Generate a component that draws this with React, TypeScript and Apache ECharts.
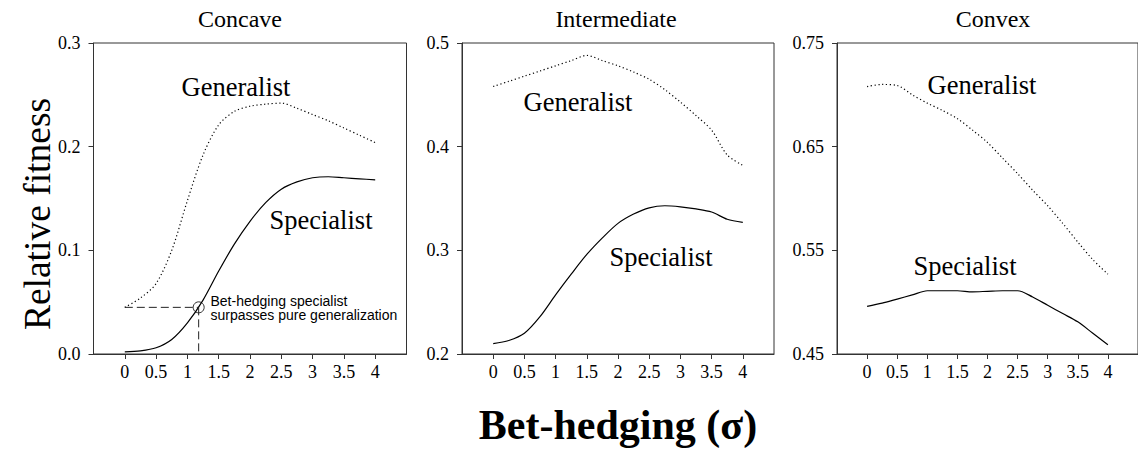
import React, { useEffect, useRef } from 'react';
import * as echarts from 'echarts';

// ---------- data ----------
const sigma = [0, 0.25, 0.5, 0.75, 1, 1.25, 1.5, 1.75, 2, 2.25, 2.5, 2.75, 3, 3.25, 3.5, 3.75, 4];
const xTickValues = [0, 0.5, 1, 1.5, 2, 2.5, 3, 3.5, 4];

const panelTitles = ['Concave', 'Intermediate', 'Convex'];

const concaveGeneralist = [0.045, 0.054, 0.068, 0.100, 0.148, 0.192, 0.221, 0.234, 0.239, 0.241, 0.242, 0.237, 0.231, 0.225, 0.218, 0.211, 0.204];
const concaveSpecialist = [0.002, 0.003, 0.006, 0.014, 0.030, 0.052, 0.080, 0.106, 0.128, 0.146, 0.159, 0.166, 0.170, 0.171, 0.170, 0.169, 0.168];

const intermediateGeneralist = [0.458, 0.463, 0.468, 0.473, 0.478, 0.483, 0.488, 0.483, 0.478, 0.472, 0.465, 0.455, 0.443, 0.430, 0.416, 0.392, 0.382];
const intermediateSpecialist = [0.210, 0.213, 0.220, 0.236, 0.257, 0.277, 0.296, 0.312, 0.326, 0.335, 0.341, 0.343, 0.342, 0.340, 0.337, 0.330, 0.327];

const convexGeneralist = [0.708, 0.710, 0.709, 0.700, 0.692, 0.685, 0.677, 0.666, 0.654, 0.639, 0.624, 0.608, 0.593, 0.576, 0.558, 0.541, 0.527];
const convexSpecialist = [0.496, 0.499, 0.503, 0.507, 0.511, 0.511, 0.511, 0.510, 0.5105, 0.511, 0.511, 0.505, 0.497, 0.489, 0.481, 0.470, 0.459];

const yMins = [0.0, 0.2, 0.45];
const yMaxs = [0.3, 0.5, 0.75];
const yDecimals = [1, 1, 2];

// crossing point annotation (concave panel)
const crossX = 1.18;
const crossY = 0.045;
const annotationLines = ['Bet-hedging specialist', 'surpasses pure generalization'];

const yAxisTitle = 'Relative fitness';
const xAxisTitle = 'Bet-hedging (σ)';

// ---------- layout / style ----------
const SERIF = '"Liberation Serif", "Times New Roman", serif';
const SANS = '"Liberation Sans", Arial, sans-serif';
const AXIS_COLOR = '#333';

const grids = [
  { left: 93.5, top: 43, width: 313, height: 311 },
  { left: 462, top: 43, width: 312, height: 311 },
  { left: 837, top: 43, width: 312, height: 311 },
];

const toPairs = (ys: number[]) => sigma.map((s, i) => [s, ys[i]]);

export default function App() {
  const ref = useRef<HTMLDivElement>(null);

  useEffect(() => {
    if (!ref.current) return;
    const chart = echarts.init(ref.current, undefined, { renderer: 'svg' });

    const generalists = [concaveGeneralist, intermediateGeneralist, convexGeneralist];
    const specialists = [concaveSpecialist, intermediateSpecialist, convexSpecialist];

    const series: any[] = [];
    for (let i = 0; i < 3; i++) {
      series.push({
        type: 'line',
        xAxisIndex: i,
        yAxisIndex: i,
        data: toPairs(generalists[i]),
        symbol: 'none',
        smooth: 0.3,
        lineStyle: { color: '#000', width: 1.2, type: [1.2, 2.6] },
        silent: true,
      });
      series.push({
        type: 'line',
        xAxisIndex: i,
        yAxisIndex: i,
        data: toPairs(specialists[i]),
        symbol: 'none',
        smooth: 0.3,
        lineStyle: { color: '#000', width: 1.2 },
        silent: true,
      });
    }
    // dashed guides to crossing point
    series.push({
      type: 'line',
      xAxisIndex: 0,
      yAxisIndex: 0,
      data: [[0, crossY], [crossX, crossY]],
      symbol: 'none',
      lineStyle: { color: '#222', width: 1, type: [8, 4] },
      silent: true,
    });
    series.push({
      type: 'line',
      xAxisIndex: 0,
      yAxisIndex: 0,
      data: [[crossX, crossY], [crossX, 0]],
      symbol: 'none',
      lineStyle: { color: '#222', width: 1, type: [8, 4] },
      silent: true,
    });
    series.push({
      type: 'scatter',
      xAxisIndex: 0,
      yAxisIndex: 0,
      data: [[crossX, crossY]],
      symbol: 'circle',
      symbolSize: 11,
      itemStyle: { color: 'rgba(0,0,0,0)', borderColor: '#000', borderWidth: 1 },
      silent: true,
    });

    const curveLabels = [
      { text: 'Generalist', x: 236, y: 87 },
      { text: 'Specialist', x: 321, y: 220 },
      { text: 'Generalist', x: 578, y: 102 },
      { text: 'Specialist', x: 661, y: 257 },
      { text: 'Generalist', x: 982, y: 84.5 },
      { text: 'Specialist', x: 965, y: 266 },
    ];
    const titleX = [240, 616, 993];

    const graphic: any[] = [];
    curveLabels.forEach((l) =>
      graphic.push({
        type: 'text',
        x: l.x,
        y: l.y,
        silent: true,
        style: { text: l.text, fontFamily: SERIF, fontSize: 26.5, fill: '#000', align: 'center', verticalAlign: 'middle' },
      })
    );
    panelTitles.forEach((t, i) =>
      graphic.push({
        type: 'text',
        x: titleX[i],
        y: 19,
        silent: true,
        style: { text: t, fontFamily: SERIF, fontSize: 24, fill: '#000', align: 'center', verticalAlign: 'middle' },
      })
    );
    annotationLines.forEach((t, i) =>
      graphic.push({
        type: 'text',
        x: 210.5,
        y: 301.3 + i * 14,
        silent: true,
        style: { text: t, fontFamily: SANS, fontSize: 14, fill: '#000', align: 'left', verticalAlign: 'middle' },
      })
    );
    graphic.push({
      type: 'text',
      x: 37,
      y: 214,
      rotation: Math.PI / 2,
      silent: true,
      style: { text: yAxisTitle, fontFamily: SERIF, fontSize: 37.5, fill: '#000', align: 'center', verticalAlign: 'middle' },
    });
    graphic.push({
      type: 'text',
      x: 618,
      y: 425,
      silent: true,
      style: { text: xAxisTitle, fontFamily: SERIF, fontSize: 42, fontWeight: 'bold', fill: '#000', align: 'center', verticalAlign: 'middle' },
    });

    chart.setOption({
      animation: false,
      backgroundColor: '#fff',
      grid: grids.map((g) => ({ ...g, show: true, borderColor: AXIS_COLOR, borderWidth: 1, backgroundColor: 'transparent' })),
      xAxis: grids.map((_, i) => ({
        type: 'value',
        gridIndex: i,
        min: -0.5,
        max: 4.5,
        interval: 0.5,
        axisLine: { show: true, onZero: false, lineStyle: { color: AXIS_COLOR, width: 1 } },
        axisTick: { show: true, inside: false, length: 5, customValues: xTickValues, lineStyle: { color: AXIS_COLOR } },
        axisLabel: {
          customValues: xTickValues,
          formatter: (v: number) => (v < 0 || v > 4 ? '' : String(v)),
          fontFamily: SERIF,
          fontSize: 18,
          color: '#000',
          margin: 9,
        },
        splitLine: { show: false },
      })),
      yAxis: grids.map((_, i) => ({
        type: 'value',
        gridIndex: i,
        min: yMins[i],
        max: yMaxs[i],
        interval: 0.1,
        axisLine: { show: true, onZero: false, lineStyle: { color: AXIS_COLOR, width: 1 } },
        axisTick: { show: true, inside: false, length: 5, lineStyle: { color: AXIS_COLOR } },
        axisLabel: {
          formatter: (v: number) => v.toFixed(yDecimals[i]),
          fontFamily: SERIF,
          fontSize: 18,
          color: '#000',
          margin: 13,
        },
        splitLine: { show: false },
      })),
      series,
      graphic,
    });

    return () => chart.dispose();
  }, []);

  return <div ref={ref} style={{ position: 'absolute', left: 0, top: 0, width: 1138, height: 452 }} />;
}
